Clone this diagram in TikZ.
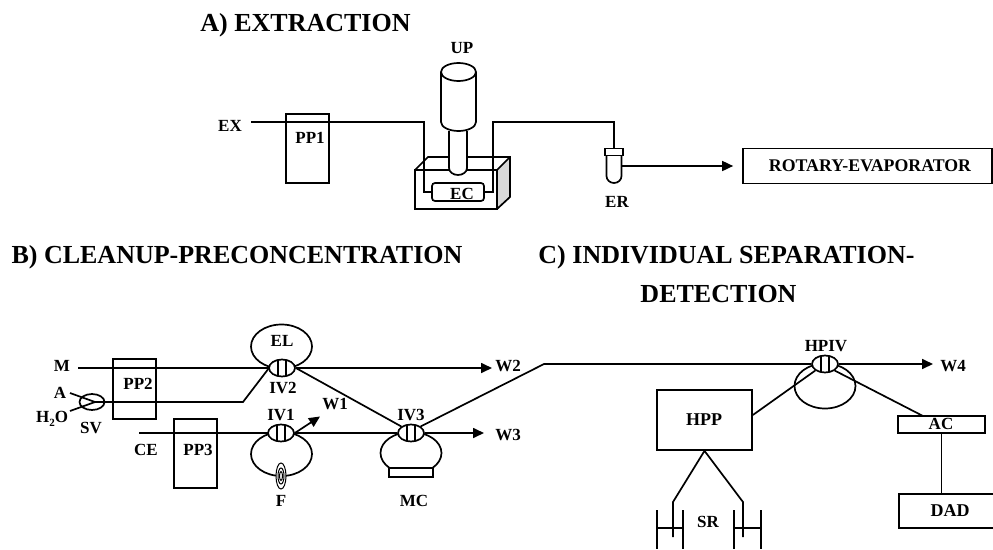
\documentclass[tikz,border=0pt]{standalone}
\usepackage{fontspec}
\setmainfont{Liberation Serif}
\usetikzlibrary{shapes.geometric,arrows.meta}
\tikzset{
  ln/.style={line width=1.7pt,line join=miter},
  lbl/.style={inner sep=0pt,font=\fontsize{17}{18}\selectfont\bfseries},
  lblb/.style={inner sep=0pt,font=\fontsize{18}{20}\selectfont\bfseries},
  ttl/.style={inner sep=0pt,font=\fontsize{26}{28}\selectfont\bfseries},
  boxn/.style={draw,line width=1.7pt,rectangle,inner sep=0pt,minimum width=#1},
  ell/.style={draw,line width=1.7pt,ellipse,inner sep=0pt},
  loopn/.style={ell,minimum width=61pt,minimum height=44pt},
  valve/.style={ell,fill=white,minimum width=26pt,minimum height=17pt,
    path picture={\draw[line width=1.4pt] (path picture bounding box.center) ++(-4pt,-10pt) -- ++(0pt,20pt)
      (path picture bounding box.center) ++(4pt,-10pt) -- ++(0pt,20pt);}},
  arr/.style={ln,-{Triangle[length=11pt,width=10pt]}}
}
\begin{document}
\begin{tikzpicture}[x=1pt,y=-1pt]
\useasboundingbox (0,0) rectangle (993,549);
% titles
\node[ttl] (ta) at (305.5,25) {A) EXTRACTION};
\node[ttl] (tb) at (237,257) {B) CLEANUP-PRECONCENTRATION};
\node[ttl] (tc) at (726.5,257) {C) INDIVIDUAL SEPARATION-};
\node[ttl] (td) at (718.5,294) {DETECTION};
% ---------- A
\node[lbl] (EX) at (230,126) {EX};
\coordinate (exs) at (251,122);
\node[boxn=43pt,minimum height=69pt] (PP1) at (307.5,148.5) {};
\node[lbl] (PP1t) at (310,138) {PP1};
% ultrasonic bath
\fill[black!15] (497,170) -- (510,157) -- (510,197) -- (497,209) -- cycle;
\draw[ln] (415,170) rectangle (497,209);
\draw[ln] (415,170) -- (428,157) -- (510,157) -- (510,197) -- (497,209);
\draw[ln] (497,170) -- (510,157);
\node[draw,line width=1.7pt,rectangle,rounded corners=3pt,inner sep=0pt,minimum width=52pt,minimum height=18pt] (EC) at (458,192) {};
\node[lbl] (ECt) at (462,194) {EC};
\coordinate (t1) at (424,122); \coordinate (t2) at (424,192);
\coordinate (t3) at (493,192); \coordinate (t4) at (493,122);
\coordinate (t5) at (614,122);
\node[draw,line width=1.7pt,rectangle,inner sep=0pt,minimum width=18pt,minimum height=7pt] (ERc) at (614,152) {};
\draw[ln] (exs) -- (t1) -- (t2) -- (EC.west);
\draw[ln] (EC.east) -- (t3) -- (t4) -- (t5) -- (ERc.north);
% probe and horn
\draw[ln,fill=white] (449,131) -- (449,168) arc[start angle=180,end angle=360,x radius=9pt,y radius=7pt] -- (467,131);
\draw[ln,fill=white] (441,72) -- (441,122) arc[start angle=180,end angle=360,x radius=17.5pt,y radius=9pt] -- (476,72);
\node[ell,fill=white,minimum width=35pt,minimum height=18pt] (UPc) at (458.5,72) {};
\node[lbl] (UP) at (462,48) {UP};
% tube
\draw[ln] (606.5,155.5) -- (606.5,176) arc[start angle=180,end angle=360,x radius=7.5pt,y radius=7pt] -- (621.5,155.5);
\coordinate (ero) at (621.5,166);
\node[lbl] (ER) at (617,202) {ER};
\node[boxn=249pt,minimum height=35pt] (RE) at (867.5,166) {};
\node[inner sep=0pt,font=\fontsize{17.8}{20}\selectfont\bfseries] (REt) at (870,166) {ROTARY-EVAPORATOR};
\draw[arr] (ero) -- ([xshift=-9pt]RE.west |- ero);
% ---------- B
\node[loopn] (EL) at (281.5,346.5) {};
\node[loopn] (L1) at (281.5,454) {};
\node[loopn,minimum height=42pt] (L3) at (411,453) {};
\node[draw,line width=1.7pt,fill=white,rectangle,inner sep=0pt,minimum width=44pt,minimum height=9pt] (MCb) at (411,472.5) {};
\node[lbl] (ELt) at (282,341) {EL};
\node[lbl] (M) at (62,366) {M};
\node[lbl] (A) at (60,393) {A};
\node[lbl] (H) at (52,419) {H\raisebox{-0.25em}{\fontsize{11}{12}\selectfont 2}O};
\node[lbl] (SV) at (91,428) {SV};
\node[lbl] (CE) at (146,450) {CE};
\node[boxn=43pt,minimum height=60pt] (PP2) at (134.5,389) {};
\node[lbl] (PP2t) at (138,384) {PP2};
\node[boxn=43pt,minimum height=69pt] (PP3) at (195.5,453.5) {};
\node[lbl] (PP3t) at (198,450) {PP3};
\node[ell,minimum width=25pt,minimum height=16pt] (SVv) at (92,402) {};
\coordinate (sa) at (70,393); \coordinate (sh) at (70,411); \coordinate (sc) at (95,402);
\coordinate (bend2) at (243,402);
\coordinate (ms) at (78,368); \coordinate (ces) at (139,433);
\draw[ln] (sa) -- (sc) -- (sh);
\draw[ln] (sc) -- (bend2) -- (269,368);
\draw[ln] (ms) -- (269,368);
\draw[ln] (ces) -- (268,433);
\node[valve] (IV2) at (282,368) {};
\node[valve] (IV1) at (281,433) {};
\node[valve] (IV3) at (411,433) {};
\draw[ln] (IV1.east) -- (IV3.west);
\draw[ln] (IV2.east) -- (IV3.north west);
\node[lbl] (IV2t) at (283,388) {IV2};
\node[lbl] (IV1t) at (281,415) {IV1};
\node[lbl] (IV3t) at (411,415) {IV3};
\node[draw,line width=1pt,ellipse,fill=white,inner sep=0pt,minimum width=10pt,minimum height=26pt] (F1) at (281,476) {};
\node[draw,line width=1pt,ellipse,inner sep=0pt,minimum width=6pt,minimum height=16pt] (F2) at (281,476) {};
\node[draw,line width=1pt,ellipse,inner sep=0pt,minimum width=3pt,minimum height=9pt] (F3) at (281,476) {};
\node[lbl] (F) at (281,501) {F};
\node[lbl] (MC) at (414,501) {MC};
\node[lbl] (W1) at (335,404) {W1};
\node[lbl] (W2) at (508,366) {W2};
\node[lbl] (W3) at (508,435) {W3};
\coordinate (w1e) at (320,416.5);
\coordinate (w2e) at (492,368);
\coordinate (w3e) at (484,433);
\draw[arr] (IV1.east) -- (w1e);
\draw[arr] (IV2.east) -- (w2e);
\draw[arr] (IV3.east) -- (w3e);
% ---------- C
\node[loopn,minimum height=45pt] (L4) at (825,386) {};
\node[valve] (HPIV) at (825,364) {};
\node[lbl] (HPIVt) at (826,346) {HPIV};
\coordinate (bend3) at (544,364);
\draw[ln] (IV3.north east) -- (bend3) -- (HPIV.west);
\node[lbl] (W4) at (953,366) {W4};
\coordinate (w4e) at (933,364);
\draw[arr] (HPIV.east) -- (w4e);
\node[boxn=95pt,minimum height=60pt] (HPP) at (704.5,420) {};
\node[lblb] (HPPt) at (704,420) {HPP};
\draw[ln] (HPP.east |- 0,415) -- (HPIV.south west);
\node[boxn=87pt,minimum height=17pt] (AC) at (941.5,424.5) {};
\node[lbl] (ACt) at (941,424) {AC};
\coordinate (acn) at (923,416);
\draw[ln] (HPIV.south east) -- (acn);
\node[boxn=110pt,minimum height=34pt,anchor=west] (DAD) at (898,511) {};
\node[lblb] (DADt) at (950,511) {DAD};
\draw[ln] (AC.south) -- (AC.south |- DAD.north);
\coordinate (sl1) at (673,502); \coordinate (sl2) at (673,537);
\coordinate (sr1) at (743,502); \coordinate (sr2) at (743,537);
\draw[ln] (sl2) -- (sl1) -- (HPP.south) -- (sr1) -- (sr2);
\node[lbl] (SR) at (708,522) {SR};
\draw[ln] (657,510) -- (657,549) (683,510) -- (683,549) (657,528) -- (683,528);
\draw[ln] (734,510) -- (734,549) (761,510) -- (761,549) (734,528) -- (761,528);
\end{tikzpicture}
\end{document}
